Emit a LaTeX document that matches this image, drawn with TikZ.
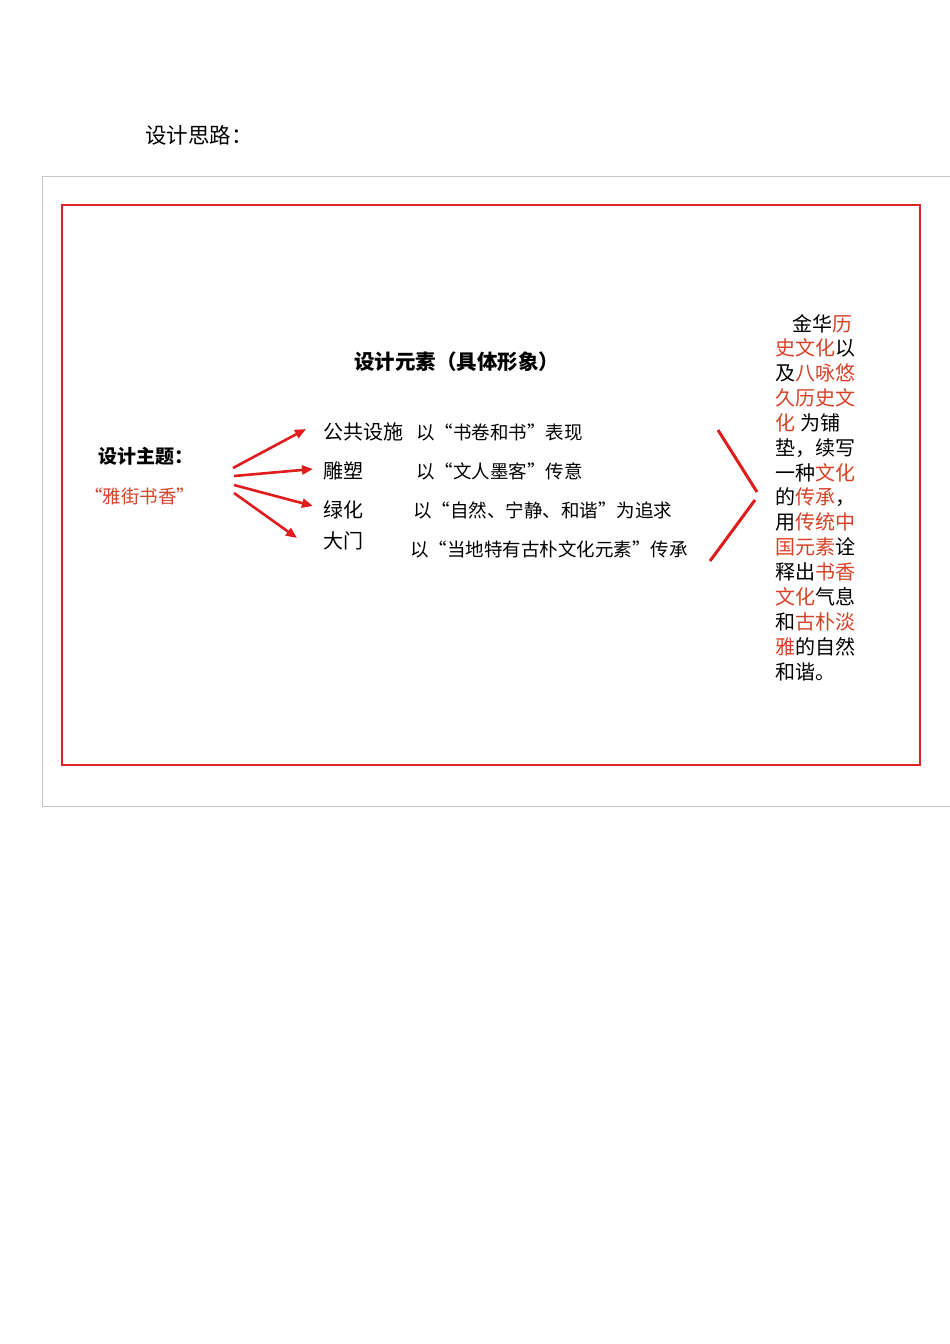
\documentclass[tikz,border=0pt]{standalone}
\usepackage{fontspec}
\newfontfamily\cjk{Noto Sans CJK SC}
\usetikzlibrary{arrows.meta}
\definecolor{boxred}{RGB}{218,38,38}
\definecolor{arrred}{RGB}{224,28,28}
\definecolor{txtred}{RGB}{214,66,40}
\definecolor{framegray}{RGB}{196,196,196}
\newcommand{\rd}[1]{\textcolor{txtred}{#1}}
\begin{document}
\begin{tikzpicture}[x=1pt,y=-1pt,
  base/.style={inner sep=0pt,outer sep=0pt,anchor=west},
  ttl/.style={base,font=\cjk\fontsize{21.5}{24}\selectfont},
  hd/.style={base,font=\cjk\bfseries\fontsize{19}{22}\selectfont},
  item/.style={base,font=\cjk\fontsize{18.5}{21}\selectfont},
  lab/.style={base,font=\cjk\fontsize{20}{22}\selectfont},
  col/.style={base,font=\cjk\fontsize{20}{22}\selectfont},
  arr/.style={draw=arrred,line width=2.6pt,-{Triangle[length=11pt,width=9pt]}},
  chev/.style={draw=arrred,line width=3pt}]
\useasboundingbox (0,0) rectangle (950,1344);
\fill[white] (0,0) rectangle (950,1344);
% title
\node[ttl] (title) at (145,135) {设计思路：};
% frames
\draw[framegray,line width=1pt] (952,176) -- (42,176) -- (42,806) -- (952,806);
\draw[boxred,line width=2.4pt] (62,205) rectangle (920,765);
% left theme
\node[hd] (theme) at (98,456) {设计主题：};
\node[item,text=txtred] (motto) at (84,496) {“雅街书香”};
% heading
\node[hd,font=\cjk\bfseries\fontsize{20.5}{23}\selectfont] (elem) at (354,362) {设计元素（具体形象）};
% items
\node[lab] (i1) at (323,432) {公共设施};
\node[item] (d1) at (416,432) {以“书卷和书”表现};
\node[lab] (i2) at (323,471) {雕塑};
\node[item] (d2) at (416,471) {以“文人墨客”传意};
\node[lab] (i3) at (323,510) {绿化};
\node[item] (d3) at (413,510) {以“自然、宁静、和谐”为追求};
\node[lab] (i4) at (323,541) {大门};
\node[item] (d4) at (410,549) {以“当地特有古朴文化元素”传承};
% arrow coordinates
\coordinate (s1) at (233,468); \coordinate (e1) at (306,429);
\coordinate (s2) at (234,476); \coordinate (e2) at (313,469);
\coordinate (s3) at (234,485); \coordinate (e3) at (313,506);
\coordinate (s4) at (234,493); \coordinate (e4) at (297,538);
\draw[arr] (s1) -- (e1);
\draw[arr] (s2) -- (e2);
\draw[arr] (s3) -- (e3);
\draw[arr] (s4) -- (e4);
% chevron
\coordinate (c1) at (718,430); \coordinate (c2) at (757,492);
\coordinate (c3) at (755,500); \coordinate (c4) at (710,561);
\draw[chev] (c1) -- (c2);
\draw[chev] (c3) -- (c4);
% right column
\node[col] (r1) at (792,324) {金华\rd{历}};
\node[col] (r2) at (775,348) {\rd{史文化}以};
\node[col] (r3) at (775,373) {及\rd{八咏悠}};
\node[col] (r4) at (775,398) {\rd{久历史文}};
\node[col] (r5) at (775,423) {\rd{化}\hspace{5pt}为铺};
\node[col] (r6) at (775,448) {垫，续写};
\node[col] (r7) at (775,473) {一种\rd{文化}};
\node[col] (r8) at (775,497) {的\rd{传承}，};
\node[col] (r9) at (775,522) {用\rd{传统中}};
\node[col] (r10) at (775,547) {\rd{国元素}诠};
\node[col] (r11) at (775,572) {释出\rd{书香}};
\node[col] (r12) at (775,597) {\rd{文化}气息};
\node[col] (r13) at (775,622) {和\rd{古朴淡}};
\node[col] (r14) at (775,647) {\rd{雅}的自然};
\node[col] (r15) at (775,672) {和谐。};
\end{tikzpicture}
\end{document}
